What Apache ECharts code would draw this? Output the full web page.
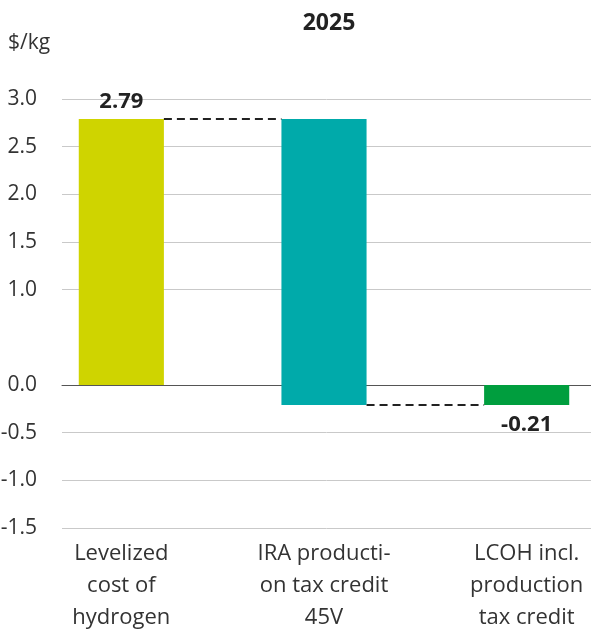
<!DOCTYPE html>
<html>
<head>
<meta charset="utf-8">
<script src="https://cdn.jsdelivr.net/npm/echarts@6/dist/echarts.min.js"></script>
<style>
  html, body { margin: 0; padding: 0; background: #fff; }
  #chart { width: 591px; height: 632px; }
</style>
</head>
<body>
<div id="chart"></div>
<script>
// Hydrogen cost bridge, $/kg
const categories = [
  'Levelized\ncost of\nhydrogen',
  'IRA producti-\non tax credit\n45V',
  'LCOH incl.\nproduction\ntax credit'
];
const values = [2.79, -3.00, -0.21];          // step changes, last one is the resulting total
const kinds = ['delta', 'delta', 'total'];
const showValue = [true, false, true];
const yRange = { min: -1.5, max: 3.0 };
const yTickValues = [3.0, 2.5, 2.0, 1.5, 1.0, 0.0, -0.5, -1.0, -1.5];
const barColors = ['#cfd400', '#00aaaa', '#009e3e'];

// running start/end for each waterfall step
const bridge = [];
let running = 0;
values.forEach((v, i) => {
  if (kinds[i] === 'total') {
    bridge.push([i, 0, v, v]);
  } else {
    bridge.push([i, running, running + v, v]);
    running += v;
  }
});

const FONT = '"Open Sans", "Noto Sans", sans-serif';
const chart = echarts.init(document.getElementById('chart'), null, { renderer: 'canvas' });

const gridTop = 99, gridHeight = 429;

chart.setOption({
  animation: false,
  title: [
    { text: '2025', left: 324, top: 7, textAlign: 'center',
      textStyle: { fontFamily: FONT, fontSize: 23, fontWeight: 'bold', color: '#222' } },
    { text: '$/kg', left: 3, top: 28,
      textStyle: { fontFamily: FONT, fontSize: 21, fontWeight: 'normal', color: '#333' } }
  ],
  grid: [
    { left: 62, right: 0, top: gridTop, height: gridHeight, outerBoundsMode: 'none' },
    { left: 20, width: 608, top: gridTop, height: gridHeight, outerBoundsMode: 'none' }
  ],
  xAxis: [
    { type: 'category', gridIndex: 0, data: categories,
      axisLine: { show: true, onZero: true, lineStyle: { color: '#555', width: 1 } },
      axisTick: { show: false }, axisLabel: { show: false }, splitLine: { show: false } },
    { type: 'category', gridIndex: 1, data: categories,
      axisLine: { show: false }, axisTick: { show: false },
      axisLabel: { fontFamily: FONT, fontSize: 22, color: '#333', lineHeight: 32, margin: 10,
                   interval: 0, align: 'center' } }
  ],
  yAxis: [
    { type: 'value', gridIndex: 0, min: yRange.min, max: yRange.max,
      axisLine: { show: false },
      axisTick: { show: false, customValues: yTickValues },
      axisLabel: { fontFamily: FONT, fontSize: 21, color: '#333', margin: 25,
                   customValues: yTickValues, formatter: v => v.toFixed(1) },
      splitLine: { show: true, lineStyle: { color: '#c9c9c9', width: 1 } } },
    { type: 'value', gridIndex: 1, min: yRange.min, max: yRange.max,
      show: false, splitLine: { show: false } }
  ],
  series: [{
    type: 'custom',
    xAxisIndex: 1,
    yAxisIndex: 1,
    data: bridge,
    encode: { x: 0, y: [1, 2] },
    renderItem: function (params, api) {
      const i = api.value(0);
      const start = api.value(1);
      const end = api.value(2);
      const catW = api.size([1, 0])[0];
      const barW = catW * 0.42;
      const pStart = api.coord([i, start]);
      const pEnd = api.coord([i, end]);
      const x0 = pStart[0] - barW / 2;
      const top = Math.min(pStart[1], pEnd[1]);
      const h = Math.abs(pStart[1] - pEnd[1]);
      const children = [{
        type: 'rect',
        shape: { x: x0, y: top, width: barW, height: h },
        style: { fill: barColors[i] }
      }];
      // dashed connector to the next step
      if (i < bridge.length - 1) {
        const nextX = api.coord([i + 1, end])[0] - barW / 2;
        children.push({
          type: 'line',
          shape: { x1: x0 + barW, y1: pEnd[1], x2: nextX, y2: pEnd[1] },
          style: { stroke: '#222', lineWidth: 2, lineDash: [8, 5] },
          z2: 5
        });
      }
      if (showValue[i]) {
        const v = api.value(3);
        const above = v >= 0;
        children.push({
          type: 'text',
          x: pStart[0],
          y: above ? pEnd[1] - 6 : pEnd[1] + 9,
          style: {
            text: v.toFixed(2),
            fontFamily: FONT, fontSize: 22, fontWeight: 'bold', fill: '#222',
            align: 'center', verticalAlign: above ? 'bottom' : 'top'
          },
          z2: 6
        });
      }
      return { type: 'group', children: children };
    }
  }]
});
</script>
</body>
</html>
